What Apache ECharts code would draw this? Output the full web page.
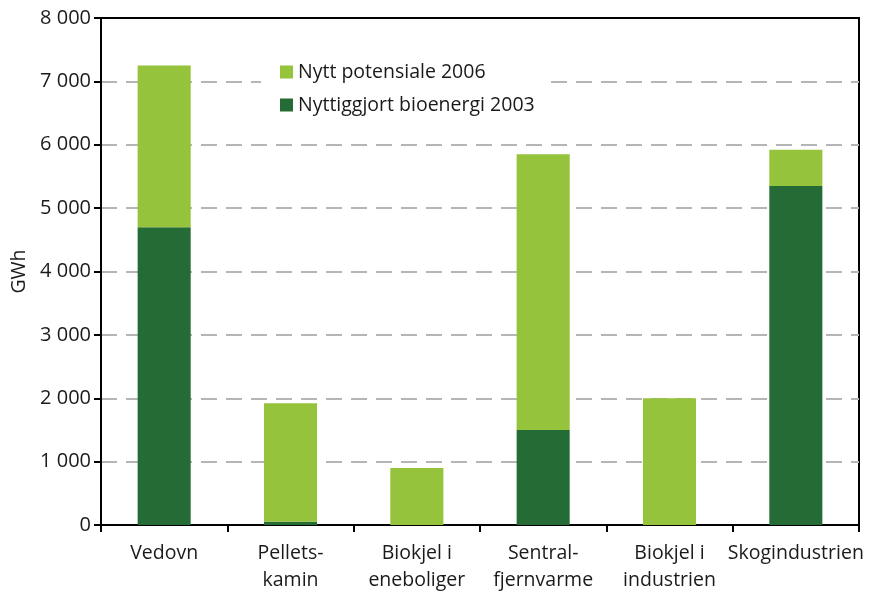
<!DOCTYPE html>
<html>
<head>
<meta charset="utf-8">
<script src="https://cdn.jsdelivr.net/npm/echarts@6/dist/echarts.min.js"></script>
<style>
  html, body { margin: 0; padding: 0; background: #fff; }
  #main { width: 870px; height: 591px; }
</style>
</head>
<body>
<div id="main"></div>
<script>
// kategorier og verdier (GWh)
var categories = ["Vedovn", "Pellets-\nkamin", "Biokjel i\neneboliger", "Sentral-\nfjernvarme", "Biokjel i\nindustrien", "Skogindustrien"];
var nyttiggjort2003 = [4700, 50, 0, 1500, 0, 5350];
var potensiale2006 = [2550, 1870, 900, 4350, 2000, 570];
var yTicks = [0, 1000, 2000, 3000, 4000, 5000, 6000, 7000, 8000];

var chart = echarts.init(document.getElementById("main"));

var option = {
  animation: false,
  textStyle: { fontFamily: "Open Sans" },
  grid: {
    left: 101,
    right: 11,
    top: 18,
    bottom: 66,
    outerBoundsMode: "none",
    show: true,
    borderColor: "#000",
    borderWidth: 2,
    backgroundColor: "transparent"
  },
  legend: {
    orient: "vertical",
    left: 261,
    top: 56,
    padding: [6, 14, 6, 19],
    itemWidth: 13,
    itemHeight: 13,
    itemGap: 13,
    backgroundColor: "#fff",
    icon: "rect",
    data: ["Nytt potensiale 2006", "Nyttiggjort bioenergi 2003"],
    textStyle: { fontSize: 19.5, color: "#1a1a1a" }
  },
  xAxis: {
    type: "category",
    data: categories,
    axisLine: { lineStyle: { color: "#000", width: 2 } },
    axisTick: { show: true, length: 7, lineStyle: { color: "#000", width: 2 } },
    axisLabel: {
      interval: 0,
      color: "#1a1a1a",
      fontSize: 19.5,
      lineHeight: 27,
      margin: 15
    }
  },
  yAxis: {
    type: "value",
    min: 0,
    max: 8000,
    interval: 1000,
    name: "GWh",
    nameLocation: "middle",
    nameGap: 70,
    nameTextStyle: { fontSize: 19.5, color: "#1a1a1a" },
    axisLine: { show: true, lineStyle: { color: "#000", width: 2 } },
    axisTick: { show: true, length: 7, lineStyle: { color: "#000", width: 2 } },
    axisLabel: {
      color: "#1a1a1a",
      fontSize: 20,
      margin: 10,
      formatter: function (v) {
        return String(v).replace(/\B(?=(\d{3})+(?!\d))/g, " ");
      }
    },
    splitLine: {
      show: true,
      showMinLine: false,
      showMaxLine: false,
      lineStyle: { color: "#b5b5b5", width: 2, type: [16, 9] }
    }
  },
  series: [
    {
      name: "Nyttiggjort bioenergi 2003",
      type: "bar",
      stack: "total",
      barWidth: "42%",
      itemStyle: { color: "#246b35" },
      data: nyttiggjort2003
    },
    {
      name: "Nytt potensiale 2006",
      type: "bar",
      stack: "total",
      barWidth: "42%",
      itemStyle: { color: "#95c33c" },
      data: potensiale2006
    }
  ]
};

chart.setOption(option);
</script>
</body>
</html>
